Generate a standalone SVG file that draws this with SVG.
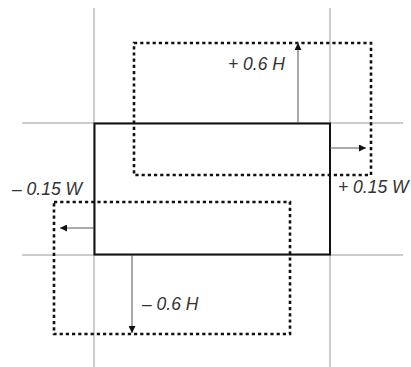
<svg xmlns="http://www.w3.org/2000/svg" width="411" height="367" viewBox="0 0 411 367">
<defs>
<style>
.grid{stroke:#9a9a9a;stroke-width:1;fill:none}
.main{stroke:#111;stroke-width:2;fill:none}
.dot{stroke:#111;stroke-width:2.6;fill:none;stroke-dasharray:3.2 3}
.arr{stroke:#555;stroke-width:1;fill:none;marker-end:url(#ah)}
.lbl{font-family:"Liberation Sans",Arial,sans-serif;font-style:italic;font-size:17.5px;fill:#333}
</style>
<marker id="ah" viewBox="0 0 10 10" refX="10" refY="5" markerWidth="9" markerHeight="7" markerUnits="userSpaceOnUse" orient="auto">
<path d="M0,0 L10,5 L0,10 z" fill="#111"/>
</marker>
</defs>
<rect width="411" height="367" fill="#fff"/>
<g id="grid">
<line class="grid" x1="94" y1="8" x2="94" y2="367"/>
<line class="grid" x1="330" y1="8" x2="330" y2="367"/>
<line class="grid" x1="22" y1="123" x2="403" y2="123"/>
<line class="grid" x1="22" y1="255" x2="403" y2="255"/>
</g>
<g id="original"><rect class="main" x="94.5" y="123.5" width="235.5" height="131"/></g>
<g id="shifted-up-right"><rect class="dot" x="134" y="43" width="237" height="132"/></g>
<g id="shifted-down-left"><rect class="dot" x="54" y="202" width="236" height="132"/></g>
<g id="connectors">
<line class="arr" x1="298" y1="123" x2="298" y2="43"/>
<line class="arr" x1="330" y1="148" x2="366" y2="148"/>
<line class="arr" x1="94" y1="228" x2="60" y2="228"/>
<line class="arr" x1="132" y1="255" x2="132" y2="333"/>
</g>
<g id="labels">
<text class="lbl" x="228" y="70">+ 0.6 H</text>
<text class="lbl" x="338" y="193">+ 0.15 W</text>
<text class="lbl" x="12" y="195">– 0.15 W</text>
<text class="lbl" x="142" y="310">– 0.6 H</text>
</g>
</svg>
